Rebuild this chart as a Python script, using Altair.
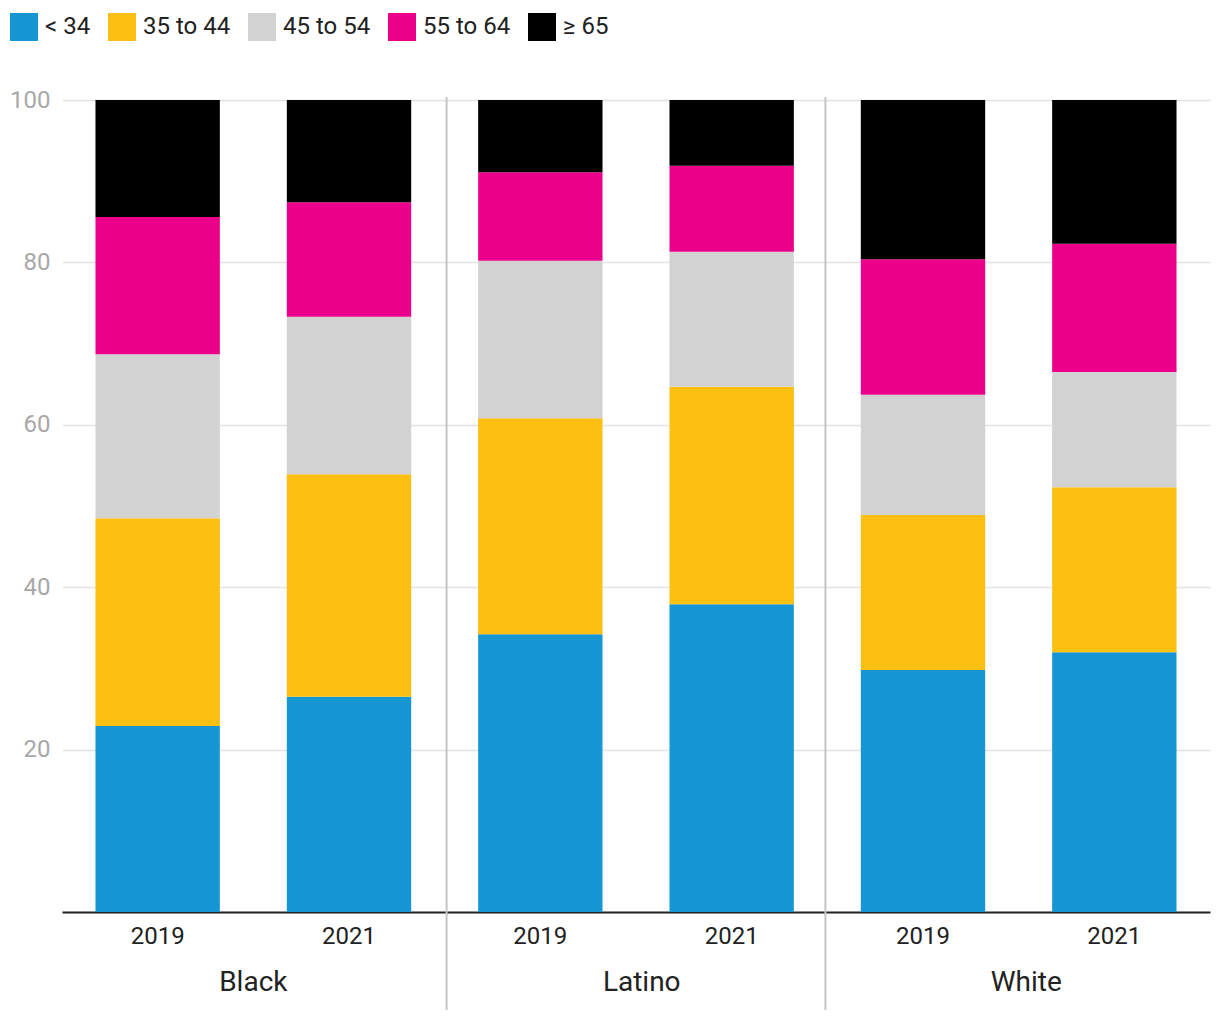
import altair as alt
import pandas as pd

groups = ["Black", "Black", "Latino", "Latino", "White", "White"]
years = ["2019", "2021", "2019", "2021", "2019", "2021"]
age_groups = ["< 34", "35 to 44", "45 to 54", "55 to 64", "≥ 65"]
colors = ["#1696d2", "#fdbf11", "#d2d2d2", "#ec008b", "#000000"]

under34 = [22.9, 26.5, 34.2, 37.9, 29.8, 32.0]
age35_44 = [25.6, 27.4, 26.6, 26.8, 19.1, 20.3]
age45_54 = [20.2, 19.4, 19.4, 16.6, 14.8, 14.2]
age55_64 = [16.9, 14.1, 10.9, 10.6, 16.7, 15.8]
over65 = [14.4, 12.6, 8.9, 8.1, 19.6, 17.7]

group_names = ["Black", "Latino", "White"]
group_centers = [1.0, 3.03, 5.04]
separators = [2.01, 3.99]
y_ticks = [20, 40, 60, 80, 100]

series = [under34, age35_44, age45_54, age55_64, over65]
rows = []
for a_idx, (age, vals) in enumerate(zip(age_groups, series)):
    for g, yr, v in zip(groups, years, vals):
        rows.append({"key": f"{g} {yr}", "group": g, "year": yr,
                     "age": age, "order": a_idx, "value": v})
df = pd.DataFrame(rows)
keys = [f"{g} {y}" for g, y in zip(groups, years)]

W, H = 1148, 812
FONT = "Roboto"

bars = alt.Chart(df).mark_bar().encode(
    x=alt.X("key:N", sort=keys, title=None,
            scale=alt.Scale(paddingInner=0.35, paddingOuter=0.175),
            axis=alt.Axis(labelExpr="split(datum.label, ' ')[1]", labelAngle=0,
                          ticks=False, domainColor="#222222", domainWidth=2,
                          labelFontSize=24, labelColor="#222222", labelPadding=12,
                          labelFont=FONT)),
    y=alt.Y("value:Q", stack="zero", title=None,
            scale=alt.Scale(domain=[0, 100], nice=False),
            axis=alt.Axis(values=y_ticks, ticks=False, domain=False,
                          gridColor="#e3e3e3", gridWidth=1.5,
                          labelFontSize=24, labelColor="#a8a8a8",
                          labelPadding=12, labelFont=FONT)),
    color=alt.Color("age:N", sort=age_groups,
                    scale=alt.Scale(domain=age_groups, range=colors),
                    legend=alt.Legend(title=None, orient="none", direction="horizontal",
                                      legendX=-52, legendY=-87,
                                      symbolType="square", symbolSize=784,
                                      symbolStrokeWidth=0, symbolOpacity=1,
                                      labelFontSize=24, labelColor="#222222",
                                      labelFont=FONT, labelOffset=7,
                                      columnPadding=17)),
    order=alt.Order("order:Q", sort="ascending"),
)

sep_df = pd.DataFrame({"pos": separators})
rules = alt.Chart(sep_df).mark_rule(color="#c4c4c4", strokeWidth=2).encode(
    x=alt.X("pos:Q", scale=alt.Scale(domain=[0, 6], nice=False), axis=None),
    y=alt.value(-3),
    y2=alt.value(910),
)

lab_df = pd.DataFrame({"pos": group_centers, "name": group_names})
labels = alt.Chart(lab_df).mark_text(fontSize=28, font=FONT, color="#222222",
                                     baseline="middle", align="center").encode(
    x=alt.X("pos:Q", scale=alt.Scale(domain=[0, 6], nice=False), axis=None),
    y=alt.value(883),
    text="name:N",
)

overlay = alt.layer(rules, labels)

chart = alt.layer(bars, overlay).resolve_scale(x="independent").properties(
    width=W, height=H,
    autosize=alt.AutoSizeParams(type="none"),
    padding={"left": 54, "top": 92, "right": 2, "bottom": 100},
).configure(font=FONT).configure_view(stroke="transparent", strokeWidth=0)

chart.save("out.html", embed_options={"renderer": "svg", "actions": False})
